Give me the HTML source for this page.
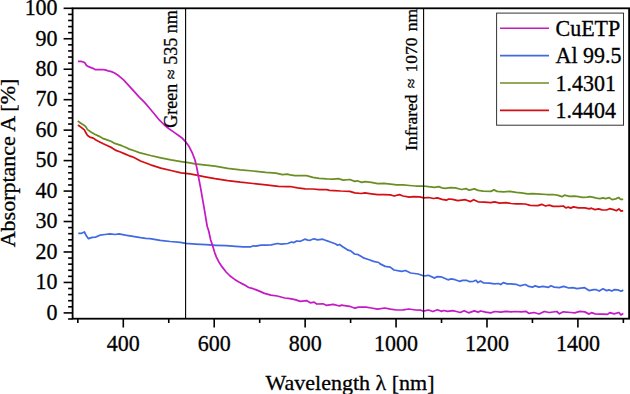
<!DOCTYPE html>
<html><head><meta charset="utf-8"><style>html,body{margin:0;padding:0;background:#fff;width:630px;height:394px;overflow:hidden}svg{display:block}text{font-family:"Liberation Serif",serif;fill:#000;stroke:#000;stroke-width:0.3px}</style></head><body><svg width="630" height="394" viewBox="0 0 630 394" font-family='"Liberation Serif", serif'><path d="M78.0 125.0 L81.2 127.4 L84.4 129.9 L85.9 132.8 L87.6 135.6 L90.5 137.4 L93.3 138.1 L95.5 139.7 L98.8 141.5 L103.3 143.7 L107.7 145.7 L112.1 147.9 L116.0 150.4 L120.4 152.0 L124.8 153.9 L129.3 155.8 L132.5 156.8 L135.4 158.2 L140.5 161.0 L150.6 164.8 L160.8 168.2 L171.0 170.5 L181.1 172.8 L190.0 173.9 L196.5 175.1 L205.0 176.8 L215.0 178.7 L227.7 180.6 L240.4 182.2 L253.1 183.5 L265.8 184.8 L278.5 186.3 L287.4 186.7 L290.0 186.5 L297.6 187.8 L305.2 188.8 L312.9 189.0 L319.2 189.7 L326.8 189.7 L329.4 190.3 L334.4 190.6 L340.8 191.0 L349.7 191.3 L354.8 192.9 L361.1 193.5 L364.9 192.9 L371.3 193.8 L377.7 194.7 L384.0 194.7 L390.4 194.9 L394.2 196.0 L399.3 194.7 L403.1 196.0 L409.4 197.2 L413.3 196.6 L419.6 196.8 L424.0 197.9 L428.5 197.5 L433.6 198.5 L437.4 197.9 L442.0 199.3 L446.3 200.1 L448.9 199.0 L452.7 199.3 L457.8 200.6 L465.4 199.7 L470.5 201.6 L473.7 199.7 L478.1 201.8 L484.4 202.2 L490.8 202.6 L494.6 201.8 L499.7 203.1 L506.0 202.6 L511.1 203.5 L516.2 203.9 L520.1 203.8 L525.2 204.0 L530.2 205.3 L537.9 205.6 L541.7 204.3 L545.5 206.0 L549.3 205.1 L553.1 206.3 L559.4 206.3 L563.3 206.0 L565.8 207.9 L568.3 207.2 L570.9 208.1 L573.4 206.8 L578.5 207.9 L584.8 207.9 L589.3 208.9 L591.4 208.2 L595.0 209.6 L598.6 208.9 L602.1 209.9 L606.4 210.0 L609.6 208.7 L613.6 209.6 L616.4 210.7 L618.9 208.9 L621.1 211.1 L623.2 210.7" fill="none" stroke="#d40f14" stroke-width="1.75" stroke-linejoin="round" stroke-linecap="butt"/><path d="M77.7 121.0 L81.2 123.5 L84.8 125.7 L86.2 127.4 L87.6 129.6 L90.5 131.7 L94.7 134.2 L98.8 136.1 L102.6 138.3 L106.4 139.6 L111.5 141.5 L114.7 143.4 L117.9 144.4 L121.7 145.7 L125.5 147.2 L129.3 149.1 L135.0 151.0 L139.2 152.6 L150.6 155.5 L160.8 157.8 L171.0 159.9 L181.1 161.6 L190.0 162.9 L194.9 163.9 L215.0 166.1 L227.7 168.3 L240.4 169.8 L253.1 171.0 L265.8 172.3 L276.0 173.1 L282.3 174.6 L287.4 174.2 L290.0 174.8 L295.1 175.7 L300.2 175.7 L306.5 175.7 L312.9 177.4 L319.2 178.3 L326.8 178.9 L333.2 179.1 L338.3 178.6 L343.3 180.2 L349.7 179.5 L354.8 181.4 L357.3 180.8 L361.7 182.4 L364.9 181.7 L371.3 182.4 L377.7 183.6 L384.0 183.3 L390.4 184.1 L396.7 184.9 L403.1 184.9 L409.4 185.5 L415.8 186.0 L423.4 186.0 L428.5 186.7 L434.8 187.3 L438.7 186.7 L442.0 187.8 L445.1 188.3 L450.2 187.6 L455.2 187.9 L461.6 189.5 L466.0 188.6 L469.2 190.2 L474.3 188.9 L478.1 190.4 L483.2 191.2 L490.8 191.4 L494.0 189.9 L497.1 191.4 L503.5 191.8 L509.8 191.4 L516.2 192.3 L521.3 192.9 L527.7 193.9 L532.8 193.6 L540.4 194.1 L546.7 194.5 L553.1 194.5 L558.2 195.4 L562.0 196.7 L564.5 195.2 L569.6 196.4 L574.7 196.2 L578.5 196.7 L582.3 197.4 L587.4 197.1 L590.0 196.6 L593.6 197.3 L596.4 198.2 L600.0 198.6 L602.9 197.9 L605.7 198.7 L609.3 197.7 L612.1 199.6 L615.7 198.9 L618.6 197.5 L620.7 199.3 L623.2 199.3" fill="none" stroke="#6b8e23" stroke-width="1.75" stroke-linejoin="round" stroke-linecap="butt"/><path d="M78.3 233.3 L81.5 233.3 L84.4 232.0 L86.0 235.2 L88.5 238.7 L92.3 237.4 L95.5 237.1 L99.9 235.2 L105.0 234.5 L110.1 233.9 L115.2 234.5 L119.0 233.9 L125.3 235.2 L133.0 236.4 L140.6 237.7 L145.7 238.3 L150.0 238.6 L160.2 240.3 L170.3 241.5 L180.5 242.4 L185.6 243.4 L195.7 244.1 L205.9 244.7 L216.0 245.3 L226.2 245.7 L235.6 246.4 L243.2 246.8 L250.9 246.8 L253.4 245.8 L255.9 246.2 L261.0 245.1 L266.1 245.1 L271.2 244.8 L277.5 243.5 L281.3 244.1 L287.7 243.5 L291.5 242.0 L294.0 242.6 L296.6 241.0 L300.4 241.3 L304.8 239.2 L308.0 240.1 L310.1 240.3 L313.9 238.8 L317.7 239.8 L322.8 239.2 L326.6 240.7 L330.4 242.0 L335.7 244.0 L337.6 245.2 L339.5 244.5 L343.1 247.0 L348.2 250.2 L350.7 250.9 L354.5 254.0 L358.3 254.7 L363.4 257.8 L368.5 259.5 L373.6 261.3 L378.7 262.5 L380.1 263.9 L385.2 266.4 L390.2 267.1 L394.0 270.0 L401.7 271.3 L405.5 270.5 L410.6 273.0 L418.2 274.0 L423.9 276.0 L428.3 275.3 L434.7 278.1 L437.2 276.6 L441.0 276.8 L448.0 279.8 L451.2 278.9 L455.1 279.7 L459.5 281.3 L462.7 280.3 L466.5 280.3 L469.7 281.7 L473.5 281.3 L476.0 280.3 L477.9 282.6 L480.5 281.1 L483.7 283.0 L489.4 283.2 L494.4 283.9 L498.3 283.5 L500.8 284.5 L503.3 282.6 L507.1 283.9 L511.0 283.9 L516.0 284.3 L519.8 285.8 L525.3 284.5 L528.8 286.4 L532.6 287.1 L535.2 285.8 L539.0 287.1 L542.8 286.4 L548.5 287.3 L551.0 285.8 L554.2 287.1 L559.3 287.7 L563.7 286.4 L568.8 288.0 L572.6 287.7 L577.1 288.7 L580.9 288.1 L584.7 287.7 L589.1 290.6 L593.6 289.6 L596.3 289.7 L599.2 291.0 L603.0 288.8 L606.5 290.6 L609.0 289.9 L611.9 291.0 L614.4 289.6 L617.9 289.9 L621.1 291.2 L623.3 290.1" fill="none" stroke="#4169e1" stroke-width="1.75" stroke-linejoin="round" stroke-linecap="butt"/><path d="M78.0 61.3 L80.9 61.3 L83.4 62.0 L85.0 62.9 L86.3 65.2 L87.9 66.4 L90.4 67.4 L93.0 68.3 L95.5 69.7 L98.7 69.7 L102.5 69.5 L105.0 69.9 L108.2 70.9 L111.4 71.6 L114.5 73.0 L117.7 75.0 L120.0 76.9 L123.8 80.2 L129.5 86.4 L134.3 91.7 L139.0 96.9 L144.8 102.6 L150.0 108.8 L154.8 114.5 L159.5 120.2 L164.3 125.0 L169.0 128.8 L173.8 132.1 L178.6 135.5 L182.4 138.3 L185.4 141.6 L189.1 146.6 L192.4 153.2 L194.9 159.8 L196.5 166.4 L197.8 173.0 L199.0 179.6 L200.6 187.8 L202.3 197.7 L203.1 202.2 L205.2 214.4 L207.2 226.5 L208.6 230.5 L210.7 240.0 L213.0 246.9 L214.7 252.6 L216.4 257.1 L218.7 261.7 L222.1 266.9 L226.1 272.0 L230.1 276.0 L234.7 279.4 L239.3 282.3 L243.9 284.6 L248.7 287.5 L253.1 288.7 L258.2 290.6 L264.5 293.4 L270.9 295.1 L277.2 296.0 L284.8 298.0 L290.0 298.7 L295.1 299.6 L300.2 301.3 L306.5 300.6 L310.3 302.8 L314.1 302.1 L316.7 304.0 L323.0 303.8 L326.2 305.3 L333.2 304.4 L339.5 306.0 L341.4 305.1 L349.7 306.3 L354.8 308.2 L358.6 307.2 L366.2 307.2 L371.3 308.0 L377.7 309.2 L384.7 308.0 L390.4 309.2 L396.7 310.0 L403.1 309.9 L408.8 309.0 L415.8 310.0 L420.9 310.2 L423.4 311.1 L428.5 310.0 L432.9 311.5 L437.4 309.7 L441.2 311.3 L443.8 310.5 L447.6 311.3 L452.7 310.7 L456.5 311.5 L460.3 312.5 L464.1 310.7 L468.6 312.8 L474.3 310.9 L478.1 312.1 L480.6 311.0 L485.7 312.1 L490.8 312.8 L494.6 311.5 L501.0 312.1 L505.4 311.3 L511.1 311.8 L515.0 311.5 L521.3 311.8 L525.8 311.3 L529.0 313.4 L534.0 312.5 L539.1 314.0 L544.2 311.5 L549.3 312.5 L556.9 311.5 L559.4 313.8 L563.3 311.8 L570.9 312.5 L574.7 312.8 L579.8 311.3 L584.8 311.9 L589.1 314.1 L591.5 312.7 L595.1 313.9 L599.8 314.1 L603.8 314.1 L607.4 314.4 L609.8 312.7 L614.1 313.9 L618.9 312.5 L620.9 314.9 L623.3 313.5" fill="none" stroke="#c41ac4" stroke-width="1.75" stroke-linejoin="round" stroke-linecap="butt"/><line x1="185.6" y1="8.3" x2="185.6" y2="318.8" stroke="#000" stroke-width="1.1"/><line x1="423.6" y1="8.3" x2="423.6" y2="318.8" stroke="#000" stroke-width="1.1"/><rect x="72.6" y="8.3" width="556.5" height="310.4" fill="none" stroke="#000" stroke-width="1.8"/><line x1="68.1" y1="318.99" x2="72.6" y2="318.99" stroke="#000" stroke-width="1.6"/><line x1="63.6" y1="312.90" x2="72.6" y2="312.90" stroke="#000" stroke-width="1.6"/><line x1="68.1" y1="306.81" x2="72.6" y2="306.81" stroke="#000" stroke-width="1.6"/><line x1="68.1" y1="300.72" x2="72.6" y2="300.72" stroke="#000" stroke-width="1.6"/><line x1="68.1" y1="294.62" x2="72.6" y2="294.62" stroke="#000" stroke-width="1.6"/><line x1="68.1" y1="288.53" x2="72.6" y2="288.53" stroke="#000" stroke-width="1.6"/><line x1="63.6" y1="282.44" x2="72.6" y2="282.44" stroke="#000" stroke-width="1.6"/><line x1="68.1" y1="276.35" x2="72.6" y2="276.35" stroke="#000" stroke-width="1.6"/><line x1="68.1" y1="270.26" x2="72.6" y2="270.26" stroke="#000" stroke-width="1.6"/><line x1="68.1" y1="264.16" x2="72.6" y2="264.16" stroke="#000" stroke-width="1.6"/><line x1="68.1" y1="258.07" x2="72.6" y2="258.07" stroke="#000" stroke-width="1.6"/><line x1="63.6" y1="251.98" x2="72.6" y2="251.98" stroke="#000" stroke-width="1.6"/><line x1="68.1" y1="245.89" x2="72.6" y2="245.89" stroke="#000" stroke-width="1.6"/><line x1="68.1" y1="239.80" x2="72.6" y2="239.80" stroke="#000" stroke-width="1.6"/><line x1="68.1" y1="233.70" x2="72.6" y2="233.70" stroke="#000" stroke-width="1.6"/><line x1="68.1" y1="227.61" x2="72.6" y2="227.61" stroke="#000" stroke-width="1.6"/><line x1="63.6" y1="221.52" x2="72.6" y2="221.52" stroke="#000" stroke-width="1.6"/><line x1="68.1" y1="215.43" x2="72.6" y2="215.43" stroke="#000" stroke-width="1.6"/><line x1="68.1" y1="209.34" x2="72.6" y2="209.34" stroke="#000" stroke-width="1.6"/><line x1="68.1" y1="203.24" x2="72.6" y2="203.24" stroke="#000" stroke-width="1.6"/><line x1="68.1" y1="197.15" x2="72.6" y2="197.15" stroke="#000" stroke-width="1.6"/><line x1="63.6" y1="191.06" x2="72.6" y2="191.06" stroke="#000" stroke-width="1.6"/><line x1="68.1" y1="184.97" x2="72.6" y2="184.97" stroke="#000" stroke-width="1.6"/><line x1="68.1" y1="178.88" x2="72.6" y2="178.88" stroke="#000" stroke-width="1.6"/><line x1="68.1" y1="172.78" x2="72.6" y2="172.78" stroke="#000" stroke-width="1.6"/><line x1="68.1" y1="166.69" x2="72.6" y2="166.69" stroke="#000" stroke-width="1.6"/><line x1="63.6" y1="160.60" x2="72.6" y2="160.60" stroke="#000" stroke-width="1.6"/><line x1="68.1" y1="154.51" x2="72.6" y2="154.51" stroke="#000" stroke-width="1.6"/><line x1="68.1" y1="148.42" x2="72.6" y2="148.42" stroke="#000" stroke-width="1.6"/><line x1="68.1" y1="142.32" x2="72.6" y2="142.32" stroke="#000" stroke-width="1.6"/><line x1="68.1" y1="136.23" x2="72.6" y2="136.23" stroke="#000" stroke-width="1.6"/><line x1="63.6" y1="130.14" x2="72.6" y2="130.14" stroke="#000" stroke-width="1.6"/><line x1="68.1" y1="124.05" x2="72.6" y2="124.05" stroke="#000" stroke-width="1.6"/><line x1="68.1" y1="117.96" x2="72.6" y2="117.96" stroke="#000" stroke-width="1.6"/><line x1="68.1" y1="111.86" x2="72.6" y2="111.86" stroke="#000" stroke-width="1.6"/><line x1="68.1" y1="105.77" x2="72.6" y2="105.77" stroke="#000" stroke-width="1.6"/><line x1="63.6" y1="99.68" x2="72.6" y2="99.68" stroke="#000" stroke-width="1.6"/><line x1="68.1" y1="93.59" x2="72.6" y2="93.59" stroke="#000" stroke-width="1.6"/><line x1="68.1" y1="87.50" x2="72.6" y2="87.50" stroke="#000" stroke-width="1.6"/><line x1="68.1" y1="81.40" x2="72.6" y2="81.40" stroke="#000" stroke-width="1.6"/><line x1="68.1" y1="75.31" x2="72.6" y2="75.31" stroke="#000" stroke-width="1.6"/><line x1="63.6" y1="69.22" x2="72.6" y2="69.22" stroke="#000" stroke-width="1.6"/><line x1="68.1" y1="63.13" x2="72.6" y2="63.13" stroke="#000" stroke-width="1.6"/><line x1="68.1" y1="57.04" x2="72.6" y2="57.04" stroke="#000" stroke-width="1.6"/><line x1="68.1" y1="50.94" x2="72.6" y2="50.94" stroke="#000" stroke-width="1.6"/><line x1="68.1" y1="44.85" x2="72.6" y2="44.85" stroke="#000" stroke-width="1.6"/><line x1="63.6" y1="38.76" x2="72.6" y2="38.76" stroke="#000" stroke-width="1.6"/><line x1="68.1" y1="32.67" x2="72.6" y2="32.67" stroke="#000" stroke-width="1.6"/><line x1="68.1" y1="26.58" x2="72.6" y2="26.58" stroke="#000" stroke-width="1.6"/><line x1="68.1" y1="20.48" x2="72.6" y2="20.48" stroke="#000" stroke-width="1.6"/><line x1="68.1" y1="14.39" x2="72.6" y2="14.39" stroke="#000" stroke-width="1.6"/><line x1="63.6" y1="8.30" x2="72.6" y2="8.30" stroke="#000" stroke-width="1.6"/><text transform="translate(57.6 319.70) scale(1 1.08)" text-anchor="end" font-size="22">0</text><text transform="translate(57.6 289.24) scale(1 1.08)" text-anchor="end" font-size="22">10</text><text transform="translate(57.6 258.78) scale(1 1.08)" text-anchor="end" font-size="22">20</text><text transform="translate(57.6 228.32) scale(1 1.08)" text-anchor="end" font-size="22">30</text><text transform="translate(57.6 197.86) scale(1 1.08)" text-anchor="end" font-size="22">40</text><text transform="translate(57.6 167.40) scale(1 1.08)" text-anchor="end" font-size="22">50</text><text transform="translate(57.6 136.94) scale(1 1.08)" text-anchor="end" font-size="22">60</text><text transform="translate(57.6 106.48) scale(1 1.08)" text-anchor="end" font-size="22">70</text><text transform="translate(57.6 76.02) scale(1 1.08)" text-anchor="end" font-size="22">80</text><text transform="translate(57.6 45.56) scale(1 1.08)" text-anchor="end" font-size="22">90</text><text transform="translate(57.6 15.10) scale(1 1.08)" text-anchor="end" font-size="22">100</text><line x1="77.84" y1="318.8" x2="77.84" y2="323.0" stroke="#000" stroke-width="1.6"/><line x1="123.30" y1="318.8" x2="123.30" y2="327.5" stroke="#000" stroke-width="1.6"/><line x1="168.76" y1="318.8" x2="168.76" y2="323.0" stroke="#000" stroke-width="1.6"/><line x1="214.22" y1="318.8" x2="214.22" y2="327.5" stroke="#000" stroke-width="1.6"/><line x1="259.68" y1="318.8" x2="259.68" y2="323.0" stroke="#000" stroke-width="1.6"/><line x1="305.14" y1="318.8" x2="305.14" y2="327.5" stroke="#000" stroke-width="1.6"/><line x1="350.60" y1="318.8" x2="350.60" y2="323.0" stroke="#000" stroke-width="1.6"/><line x1="396.06" y1="318.8" x2="396.06" y2="327.5" stroke="#000" stroke-width="1.6"/><line x1="441.52" y1="318.8" x2="441.52" y2="323.0" stroke="#000" stroke-width="1.6"/><line x1="486.98" y1="318.8" x2="486.98" y2="327.5" stroke="#000" stroke-width="1.6"/><line x1="532.44" y1="318.8" x2="532.44" y2="323.0" stroke="#000" stroke-width="1.6"/><line x1="577.90" y1="318.8" x2="577.90" y2="327.5" stroke="#000" stroke-width="1.6"/><line x1="623.36" y1="318.8" x2="623.36" y2="323.0" stroke="#000" stroke-width="1.6"/><text transform="translate(123.30 350.5) scale(1 1.08)" text-anchor="middle" font-size="22">400</text><text transform="translate(214.22 350.5) scale(1 1.08)" text-anchor="middle" font-size="22">600</text><text transform="translate(305.14 350.5) scale(1 1.08)" text-anchor="middle" font-size="22">800</text><text transform="translate(396.06 350.5) scale(1 1.08)" text-anchor="middle" font-size="22">1000</text><text transform="translate(486.98 350.5) scale(1 1.08)" text-anchor="middle" font-size="22">1200</text><text transform="translate(577.90 350.5) scale(1 1.08)" text-anchor="middle" font-size="22">1400</text><text x="350" y="389.5" text-anchor="middle" font-size="22">Wavelength &#955; [nm]</text><text transform="translate(15.2 163) rotate(-90)" text-anchor="middle" font-size="22">Absorptance A [%]</text><text transform="translate(177 69.0) rotate(-90)" text-anchor="middle" font-size="18">Green &#8776; 535 nm</text><text transform="translate(417.3 79.9) rotate(-90)" text-anchor="middle" font-size="17.5" word-spacing="1.8">Infrared &#8776; 1070 nm</text><rect x="496.6" y="13.1" width="126.9" height="112.1" fill="#fff" stroke="#333" stroke-width="1"/><line x1="500" y1="28.2" x2="549" y2="28.2" stroke="#c41ac4" stroke-width="1.6"/><text transform="translate(555.5 35.7) scale(1 1.06)" font-size="22">CuETP</text><line x1="500" y1="55.6" x2="549" y2="55.6" stroke="#4169e1" stroke-width="1.6"/><text transform="translate(555.5 63.1) scale(1 1.06)" font-size="22">Al 99.5</text><line x1="500" y1="83.0" x2="549" y2="83.0" stroke="#6b8e23" stroke-width="1.6"/><text transform="translate(555.5 90.5) scale(1 1.09)" font-size="22">1.4301</text><line x1="500" y1="110.4" x2="549" y2="110.4" stroke="#d40f14" stroke-width="1.6"/><text transform="translate(555.5 117.9) scale(1 1.09)" font-size="22">1.4404</text></svg></body></html>
